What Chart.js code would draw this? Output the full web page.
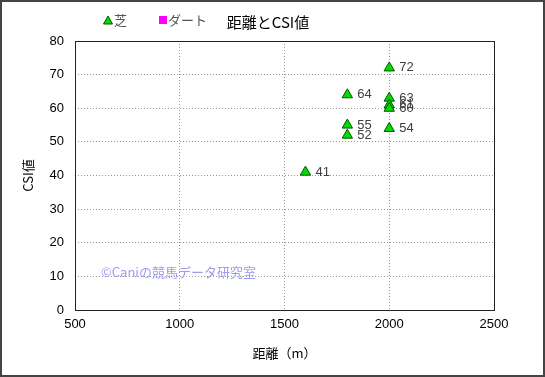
<!DOCTYPE html>
<html>
<head>
<meta charset="utf-8">
<script src="https://cdn.jsdelivr.net/npm/chart.js@4"></script>
<style>
  body { margin: 0; background: #fff; }
  #wrap { width: 545px; height: 377px; position: relative; }
</style>
</head>
<body>
<div id="wrap"><canvas id="chart" width="545" height="377"></canvas></div>
<script>
// 芝 (turf) races: distance and CSI value
var turfDistance = [2000, 2000, 2000, 2000, 2000, 1800, 1800, 1800, 1600]
var turfCsi = [72, 63, 61, 60, 54, 64, 55, 52, 41]

// ダート (dirt) races: none in this chart
var dirtDistance = []
var dirtCsi = []

var xTicks = [500, 1000, 1500, 2000, 2500]
var yTicks = [0, 10, 20, 30, 40, 50, 60, 70, 80]

var FONT = "'Liberation Sans', 'Noto Sans CJK JP', sans-serif"

const toPoints = (xs, ys) => xs.map((x, i) => ({ x: x, y: ys[i] }))

// labels next to each point, the frame, the legend/title and the watermark
const decor = {
  id: "decor",
  afterDatasetsDraw(chart) {
    const ctx = chart.ctx
    ctx.save()
    ctx.font = "13px " + FONT
    ctx.fillStyle = "#404040"
    ctx.textBaseline = "middle"
    ctx.textAlign = "left"
    const meta = chart.getDatasetMeta(0)
    meta.data.forEach((pt, i) => {
      ctx.fillText(String(turfCsi[i]), pt.x + 10, pt.y)
    })
    ctx.restore()
  },
  afterDraw(chart) {
    const ctx = chart.ctx
    const area = chart.chartArea
    ctx.save()
    // plot box
    ctx.strokeStyle = "#222"
    ctx.lineWidth = 1
    ctx.strokeRect(Math.round(area.left) + 0.5, Math.round(area.top) + 0.5,
      Math.round(area.right - area.left), Math.round(area.bottom - area.top))
    // outer frame
    ctx.strokeStyle = "#444"
    ctx.lineWidth = 2
    ctx.strokeRect(1, 1, chart.width - 2, chart.height - 2)

    // watermark
    ctx.font = "13px 'Noto Sans CJK JP', sans-serif"
    ctx.fillStyle = "#9c9cf0"
    ctx.textBaseline = "middle"
    ctx.fillText("©Caniの競馬データ研究室", 101, 272)

    // legend
    ctx.fillStyle = "#00dd00"
    ctx.strokeStyle = "#005500"
    ctx.lineWidth = 1
    ctx.beginPath()
    ctx.moveTo(108, 16); ctx.lineTo(112.5, 24); ctx.lineTo(103.5, 24); ctx.closePath()
    ctx.fill(); ctx.stroke()
    ctx.fillStyle = "#ff00ff"
    ctx.fillRect(159, 16, 8, 8)
    ctx.fillStyle = "#555"
    ctx.font = "13px 'Noto Sans CJK JP', sans-serif"
    ctx.fillText("芝", 114, 20)
    ctx.fillText("ダート", 168, 20)

    // title
    ctx.fillStyle = "#000"
    ctx.font = "15px 'Noto Sans CJK JP', sans-serif"
    ctx.textAlign = "center"
    ctx.fillText("距離とCSI値", 268, 22)
    ctx.restore()
  }
}

new Chart(document.getElementById("chart"), {
  type: "scatter",
  data: {
    datasets: [
      {
        label: "芝",
        data: toPoints(turfDistance, turfCsi),
        pointStyle: "triangle",
        pointRadius: 6,
        pointHoverRadius: 6,
        backgroundColor: "#00dd00",
        borderColor: "#005500",
        borderWidth: 1,
      },
      {
        label: "ダート",
        data: toPoints(dirtDistance, dirtCsi),
        pointStyle: "rect",
        pointRadius: 5,
        backgroundColor: "#ff00ff",
        borderColor: "#ff00ff",
      },
    ],
  },
  options: {
    responsive: false,
    animation: false,
    layout: { padding: { top: 41, right: 51, bottom: 16, left: 0 } },
    plugins: {
      legend: { display: false },
      title: { display: false },
      tooltip: { enabled: false },
    },
    scales: {
      x: {
        type: "linear",
        min: 500,
        max: 2500,
        afterBuildTicks: (axis) => { axis.ticks = xTicks.map(v => ({ value: v })) },
        afterFit: (axis) => { axis.height = 51 },
        ticks: { color: "#000", font: { family: FONT, size: 13 }, padding: 7, callback: (v) => String(v) },
        grid: { color: "#999", drawTicks: false, tickLength: 0 },
        border: { display: false, dash: [1, 2] },
        title: { display: true, text: "距離（m）", color: "#000", font: { family: "'Noto Sans CJK JP', sans-serif", size: 13 }, padding: { top: 8, bottom: 0 } },
      },
      y: {
        type: "linear",
        min: 0,
        max: 80,
        afterBuildTicks: (axis) => { axis.ticks = yTicks.map(v => ({ value: v })) },
        afterFit: (axis) => { axis.width = 75 },
        ticks: { color: "#000", font: { family: FONT, size: 13 }, padding: 11, callback: (v) => String(v) },
        grid: { color: "#999", drawTicks: false, tickLength: 0 },
        border: { display: false, dash: [1, 2] },
        title: { display: true, text: "CSI値", color: "#000", font: { family: "'Noto Sans CJK JP', sans-serif", size: 13 }, padding: { top: 20, bottom: 0 } },
      },
    },
  },
  plugins: [decor],
})
</script>
</body>
</html>
